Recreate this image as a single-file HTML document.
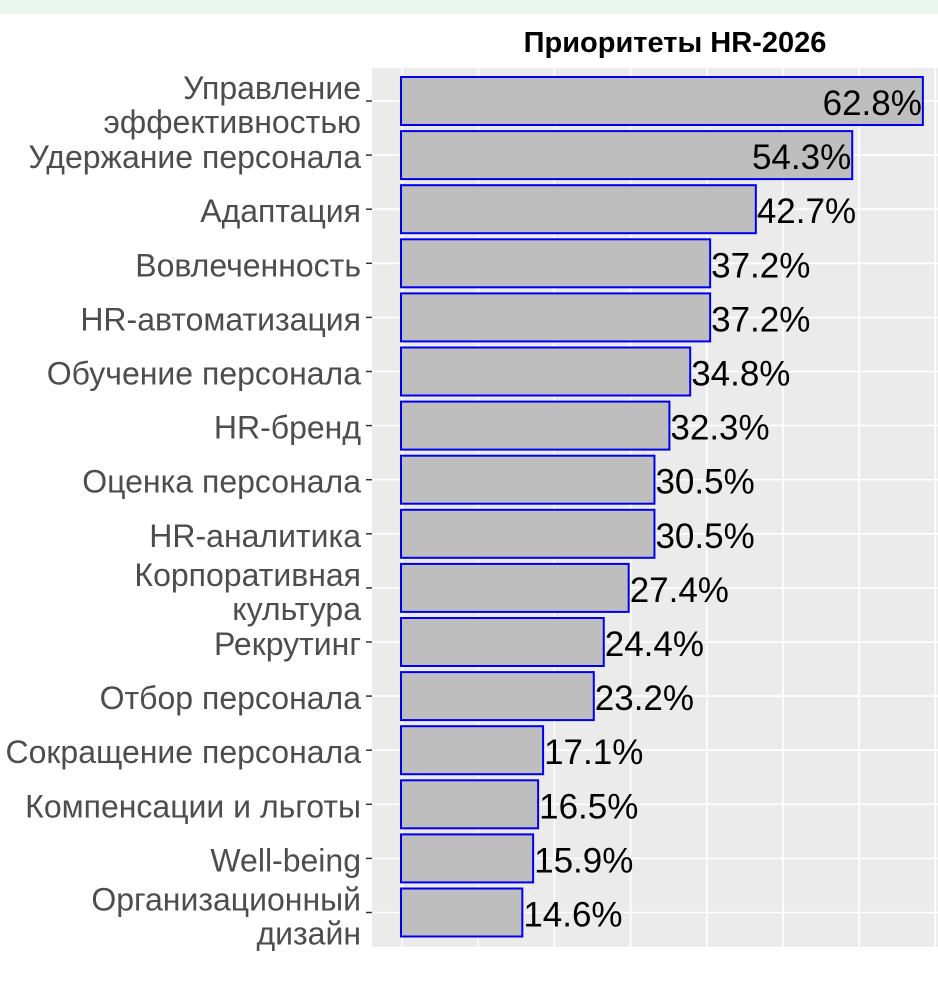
<!DOCTYPE html>
<html><head><meta charset="utf-8"><style>
html,body{margin:0;padding:0;background:#fff;width:938px;height:988px;overflow:hidden}
</style></head><body>
<svg width="938" height="988" xmlns="http://www.w3.org/2000/svg" font-family="Liberation Sans, Arial, sans-serif">
<rect x="0" y="0" width="938" height="14" fill="#eaf5ef"/>
<text x="675" y="52" text-anchor="middle" font-size="29" font-weight="bold" fill="#000">Приоритеты HR-2026</text>
<rect x="372" y="68" width="566" height="879" fill="#ebebeb"/>
<g stroke="#fff" stroke-width="1.6" id="grid"></g>
<g id="bars"></g>
</svg>
<script>
const d=[["Управление|эффективностью",62.8],["Удержание персонала",54.3],["Адаптация",42.7],["Вовлеченность",37.2],["HR-автоматизация",37.2],["Обучение персонала",34.8],["HR-бренд",32.3],["Оценка персонала",30.5],["HR-аналитика",30.5],["Корпоративная|культура",27.4],["Рекрутинг",24.4],["Отбор персонала",23.2],["Сокращение персонала",17.1],["Компенсации и льготы",16.5],["Well-being",15.9],["Организационный|дизайн",14.6]];
const NS="http://www.w3.org/2000/svg";
const g=document.getElementById('grid'),b=document.getElementById('bars');
function el(p,tag,a,t){const e=document.createElementNS(NS,tag);for(const k in a)e.setAttribute(k,a[k]);if(t!==undefined)e.textContent=t;p.appendChild(e);return e;}
for(let k=0;k<8;k++){const x=402+76.2*k;el(g,'line',{x1:x,x2:x,y1:68,y2:947});}
d.forEach((r,i)=>{const c=101+54.1*i;el(g,'line',{x1:372,x2:938,y1:c,y2:c});});
d.forEach((r,i)=>{const c=101+54.1*i,w=r[1]*8.31;
el(b,'rect',{x:401,y:c-24,width:w,height:48,fill:'#bebebe',stroke:'#0000ee','stroke-width':2});
const lbl=r[1].toFixed(1)+'%';
if(i<2)el(b,'text',{x:401+w-1,y:c+14,'text-anchor':'end','font-size':35,fill:'#000'},lbl);
else el(b,'text',{x:401+w+1,y:c+14,'font-size':35,fill:'#000'},lbl);
el(b,'line',{x1:366,x2:372,y1:c,y2:c,stroke:'#333','stroke-width':1.5});
const parts=r[0].split('|');
if(parts.length==1)el(b,'text',{x:361,y:c+13,'text-anchor':'end','font-size':32,fill:'#4d4d4d'},parts[0]);
else{el(b,'text',{x:361,y:c-2,'text-anchor':'end','font-size':32,fill:'#4d4d4d'},parts[0]);el(b,'text',{x:361,y:c+32,'text-anchor':'end','font-size':32,fill:'#4d4d4d'},parts[1]);}
});
</script>
</body></html>
